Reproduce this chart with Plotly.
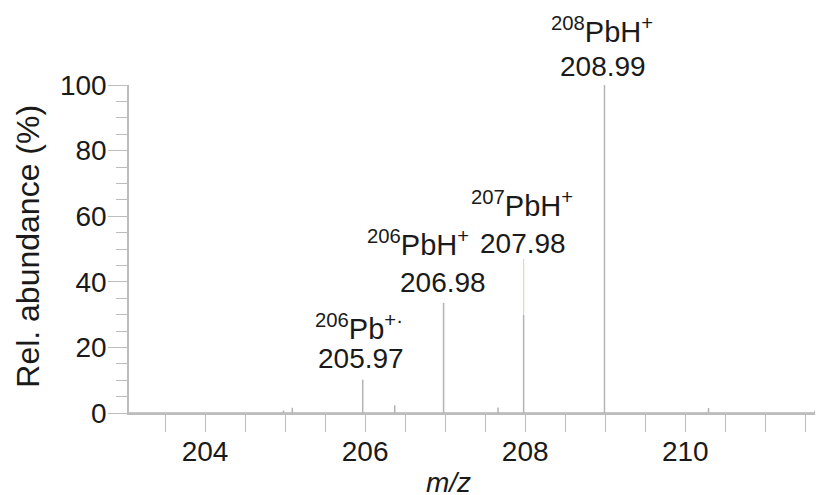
import plotly.graph_objects as go

# ---- data ----
peak_mz = [204.98, 205.09, 205.97, 206.37, 206.98, 207.66, 207.98, 208.99, 210.29, 211.62]
peak_abund = [0.8, 1.6, 10.1, 2.4, 33.5, 1.7, 29.9, 100.0, 1.5, 0.8]
green_mz = [207.98, 207.98]
green_abund = [29.9, 47.0]
x_range = [203.05, 211.72]
y_range = [0, 100]

label_names = ["<sup>206</sup>Pb<sup>+·</sup>", "<sup>206</sup>PbH<sup>+</sup>",
               "<sup>207</sup>PbH<sup>+</sup>", "<sup>208</sup>PbH<sup>+</sup>"]
label_x = [205.925, 206.66, 207.96, 208.96]
label_y = [26.3, 51.9, 63.8, 116.9]
value_texts = ["205.97", "206.98", "207.98", "208.99"]
value_x = [205.95, 206.975, 207.975, 208.97]
value_y = [16.5, 39.7, 51.6, 105.6]

# build stick spectrum from peak list
xs = [x_range[0]]
ys = [0]
for m, a in zip(peak_mz, peak_abund):
    xs += [m, m, m]
    ys += [0, a, 0]
xs.append(x_range[1])
ys.append(0)

FONT = "Liberation Sans, Arial, sans-serif"
fig = go.Figure()
fig.add_trace(go.Scatter(x=xs, y=ys, mode="lines",
                         line=dict(color="#b4b4b4", width=1.5),
                         hoverinfo="skip", showlegend=False, cliponaxis=False))
fig.add_trace(go.Scatter(x=green_mz, y=green_abund, mode="lines",
                         line=dict(color="#c4e6c4", width=1.2),
                         hoverinfo="skip", showlegend=False))


def to_paper(v):
    return (v - y_range[0]) / (y_range[1] - y_range[0])


annotations = []
for t, x, y in zip(label_names, label_x, label_y):
    annotations.append(dict(x=x, y=to_paper(y), xref="x", yref="paper", text=t, showarrow=False,
                            font=dict(family=FONT, size=29, color="#1a1a1a"),
                            xanchor="center", yanchor="middle"))
for t, x, y in zip(value_texts, value_x, value_y):
    annotations.append(dict(x=x, y=to_paper(y), xref="x", yref="paper", text=t, showarrow=False,
                            font=dict(family=FONT, size=28, color="#1a1a1a"),
                            xanchor="center", yanchor="middle"))
annotations.append(dict(x=0.461, y=-0.212, xref="paper", yref="paper", text="<i>m/z</i>",
                        showarrow=False, font=dict(family=FONT, size=28, color="#1a1a1a"),
                        xanchor="center", yanchor="middle"))
annotations.append(dict(x=-0.146, y=0.509, xref="paper", yref="paper",
                        text="Rel. abundance (%)", textangle=-90, showarrow=False,
                        font=dict(family=FONT, size=32, color="#1a1a1a"),
                        xanchor="center", yanchor="middle"))

fig.update_layout(
    width=815, height=487,
    margin=dict(l=121, r=0, t=77, b=82),
    paper_bgcolor="white", plot_bgcolor="white",
    annotations=annotations,
    xaxis=dict(range=x_range, showgrid=False, zeroline=False,
               showline=True, linecolor="#bdbdbd", linewidth=1.5,
               ticks="outside", ticklen=17, tickcolor="#bdbdbd", tickwidth=1.2,
               tick0=204, dtick=2, ticklabelstandoff=-4,
               minor=dict(ticks="outside", ticklen=17, tickcolor="#bdbdbd", tickwidth=1.2, dtick=0.5, showgrid=False),
               tickfont=dict(family=FONT, size=28, color="#1a1a1a")),
    yaxis=dict(range=y_range, showgrid=False, zeroline=False,
               showline=True, linecolor="#bdbdbd", linewidth=1.5,
               ticks="outside", ticklen=19, tickcolor="#bdbdbd", tickwidth=1.2,
               tick0=0, dtick=20, ticklabelstandoff=-4,
               minor=dict(ticks="outside", ticklen=11, tickcolor="#bdbdbd", tickwidth=1.2, dtick=5, showgrid=False),
               tickfont=dict(family=FONT, size=28, color="#1a1a1a")),
)

fig.write_html("out.html")
